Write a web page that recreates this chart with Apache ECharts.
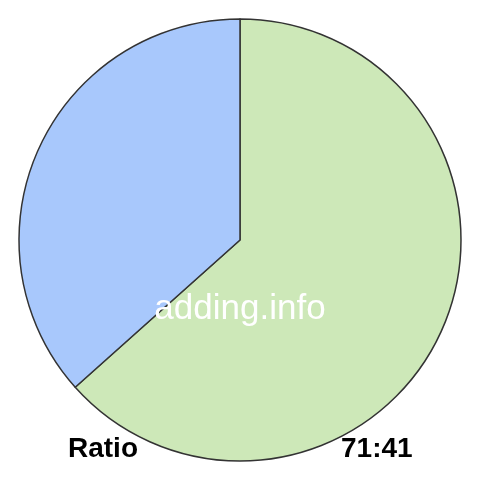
<!DOCTYPE html>
<html>
<head>
<meta charset="utf-8">
<script src="https://cdn.jsdelivr.net/npm/echarts@6/dist/echarts.min.js"></script>
<style>
  html, body { margin: 0; padding: 0; background: #fff; }
  #chart { width: 480px; height: 480px; }
</style>
</head>
<body>
<div id="chart"></div>
<script>
  var names = ['A', 'B'];
  var values = [71, 41];
  var colors = ['#cde8b8', '#a8c8fc'];
  var watermark = 'adding.info';
  var leftLabel = 'Ratio';
  var rightLabel = values.join(':');

  var chart = echarts.init(document.getElementById('chart'));
  var data = [];
  for (var i = 0; i < values.length; i++) {
    data.push({ name: names[i], value: values[i], itemStyle: { color: colors[i] } });
  }
  var option = {
    animation: false,
    series: [{
      type: 'pie',
      center: [240, 240],
      radius: [0, 221],
      startAngle: 90,
      clockwise: true,
      label: { show: false },
      labelLine: { show: false },
      silent: true,
      itemStyle: { borderColor: '#333', borderWidth: 1.5 },
      data: data
    }],
    graphic: [
      {
        type: 'text', left: 'center', top: 292, z: 10,
        style: { text: watermark, fill: '#fff', font: '35px Arial, "Liberation Sans", sans-serif' }
      },
      {
        type: 'text', left: 68, top: 435,
        style: { text: leftLabel, fill: '#000', font: 'bold 28px Arial, "Liberation Sans", sans-serif' }
      },
      {
        type: 'text', left: 341, top: 435,
        style: { text: rightLabel, fill: '#000', font: 'bold 28px Arial, "Liberation Sans", sans-serif' }
      }
    ]
  };
  chart.setOption(option);
</script>
</body>
</html>
